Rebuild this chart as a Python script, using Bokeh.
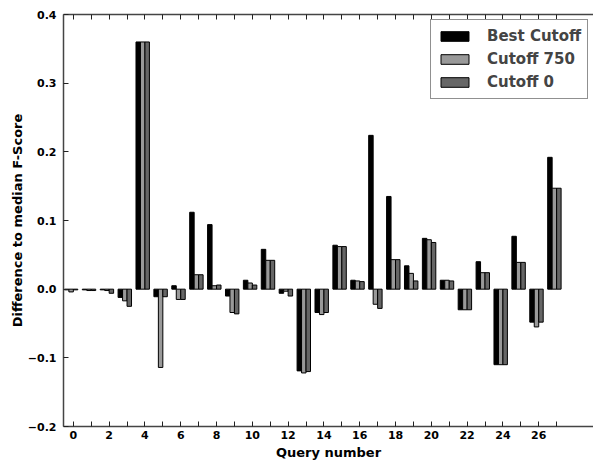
from bokeh.plotting import figure
from bokeh.models import (ColumnDataSource, Range1d, LinearAxis, FixedTicker,
                          Legend, LegendItem)
from bokeh.transform import dodge
from bokeh.embed import file_html
from bokeh.resources import INLINE

# ---- data -------------------------------------------------------------
queries = list(range(28))
best_cutoff = [-0.001, -0.001, -0.001, -0.012, 0.360, -0.011, 0.005, 0.112,
               0.094, -0.010, 0.013, 0.058, -0.006, -0.119, -0.034, 0.064,
               0.013, 0.224, 0.135, 0.034, 0.074, 0.013, -0.030, 0.040,
               -0.110, 0.077, -0.048, 0.192]
cutoff_750 = [-0.004, -0.002, -0.002, -0.017, 0.360, -0.114, -0.015, 0.021,
              0.005, -0.034, 0.009, 0.042, -0.003, -0.122, -0.037, 0.062,
              0.012, -0.022, 0.043, 0.023, 0.072, 0.013, -0.030, 0.024,
              -0.110, 0.039, -0.055, 0.147]
cutoff_0 = [-0.001, -0.002, -0.006, -0.025, 0.360, -0.011, -0.015, 0.021,
            0.006, -0.036, 0.006, 0.042, -0.010, -0.120, -0.034, 0.062,
            0.011, -0.028, 0.043, 0.012, 0.068, 0.012, -0.030, 0.024,
            -0.110, 0.039, -0.048, 0.147]
series_names = ["Best Cutoff", "Cutoff 750", "Cutoff 0"]
x_label_ticks = [0, 2, 4, 6, 8, 10, 12, 14, 16, 18, 20, 22, 24, 26]
x_tick_labels = ["0", "2", "4", "6", "8", "10", "12", "14", "16", "18",
                 "20", "22", "24", "26"]
x_plain_ticks = [1, 3, 5, 7, 9, 11, 13, 15, 17, 19, 21, 23, 25, 27]
all_x_ticks = list(range(28))
y_ticks = [-0.2, -0.1, 0.0, 0.1, 0.2, 0.3, 0.4]
y_tick_labels = ["\u22120.2", "\u22120.1", "0.0", "0.1", "0.2", "0.3", "0.4"]

src = ColumnDataSource(dict(q=queries, best=best_cutoff, c750=cutoff_750, c0=cutoff_0))

FONT = "DejaVu Sans"
AXIS_COLOR = "#444444"

p = figure(width=593, height=462, output_backend="svg", toolbar_location=None,
           x_range=Range1d(-0.55, 29.06), y_range=Range1d(-0.2, 0.4),
           min_border_left=63, min_border_right=0, min_border_top=14,
           min_border_bottom=0)
p.outline_line_color = None
p.xgrid.visible = False
p.ygrid.visible = False
p.background_fill_color = "white"

w = 0.25
r1 = p.vbar(x=dodge("q", -0.375), top="best", bottom=0, width=w, source=src,
            fill_color="#000000", line_color="#000000", line_width=1)
r2 = p.vbar(x=dodge("q", -0.125), top="c750", bottom=0, width=w, source=src,
            fill_color="#999999", line_color="#000000", line_width=1)
r3 = p.vbar(x=dodge("q", 0.125), top="c0", bottom=0, width=w, source=src,
            fill_color="#666666", line_color="#000000", line_width=1)

# bottom axis: labelled even ticks, unlabelled odd ticks
xa = p.xaxis[0]
xa.ticker = FixedTicker(ticks=x_label_ticks, minor_ticks=x_plain_ticks)
xa.major_label_overrides = {t: l for t, l in zip(x_label_ticks, x_tick_labels)}
xa.axis_label = "Query number"
xa.axis_label_text_font = FONT
xa.axis_label_text_font_style = "bold"
xa.axis_label_text_font_size = "13px"
xa.axis_label_standoff = 3
xa.major_label_text_font = FONT
xa.major_label_text_font_style = "bold"
xa.major_label_text_font_size = "11px"
xa.major_label_standoff = 4

# left axis
ya = p.yaxis[0]
ya.ticker = FixedTicker(ticks=y_ticks, minor_ticks=[])
ya.major_label_overrides = {t: l for t, l in zip(y_ticks, y_tick_labels)}
ya.axis_label = "Difference to median F-Score"
ya.axis_label_text_font = FONT
ya.axis_label_text_font_style = "bold"
ya.axis_label_text_font_size = "13px"
ya.axis_label_standoff = 0
ya.major_label_text_font = FONT
ya.major_label_text_font_style = "bold"
ya.major_label_text_font_size = "11px"
ya.major_label_standoff = 7

# top axis: tick marks only (as minor ticks, so there are no labels)
ta = LinearAxis(ticker=FixedTicker(ticks=[], minor_ticks=all_x_ticks))
p.add_layout(ta, "above")

for ax in (xa, ya, ta):
    ax.axis_line_color = AXIS_COLOR
    ax.axis_line_width = 1.5
    ax.major_tick_in = 5
    ax.major_tick_out = 0
    ax.minor_tick_in = 5
    ax.minor_tick_out = 0
    ax.major_tick_line_color = "#222222"
    ax.major_tick_line_width = 1
    ax.minor_tick_line_color = "#222222"
    ax.minor_tick_line_width = 1
    ax.major_label_text_color = "#000000"
    ax.axis_label_text_color = "#000000"

legend = Legend(items=[LegendItem(label=series_names[0], renderers=[r1]),
                       LegendItem(label=series_names[1], renderers=[r2]),
                       LegendItem(label=series_names[2], renderers=[r3])],
                location=(367, 327), margin=0, padding=6, spacing=3,
                glyph_width=35, glyph_height=12, label_height=20,
                label_standoff=15, label_text_font=FONT,
                label_text_font_style="bold", label_text_font_size="15px",
                border_line_color="#222222", border_line_width=1,
                background_fill_color="white", background_fill_alpha=1)
p.add_layout(legend)

open("out.html", "w").write(file_html(p, INLINE))
